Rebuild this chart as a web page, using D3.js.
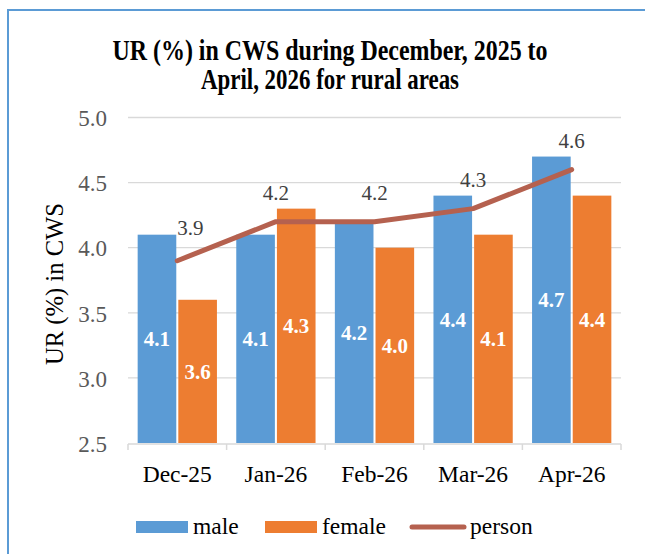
<!DOCTYPE html>
<html>
<head>
<meta charset="utf-8">
<script src="https://cdn.jsdelivr.net/npm/d3@7"></script>
<style>
  body { margin: 0; background: #fff; }
  svg text { font-family: "Liberation Serif", "DejaVu Serif", serif; }
</style>
</head>
<body>
<svg width="645" height="554"></svg>
<script>
var months = ["Dec-25", "Jan-26", "Feb-26", "Mar-26", "Apr-26"];
var male = [4.1, 4.1, 4.2, 4.4, 4.7];
var female = [3.6, 4.3, 4.0, 4.1, 4.4];
var person = [3.9, 4.2, 4.2, 4.3, 4.6];
var yTicks = [2.5, 3.0, 3.5, 4.0, 4.5, 5.0];
var titleLines = ["UR (%) in CWS during December, 2025 to", "April, 2026 for rural areas"];

var colMale = "#5b9bd5", colFemale = "#ed7d31", colPerson = "#b5614f";
var serif = "Liberation Serif";

var svg = d3.select("svg");

// outer frame
svg.append("rect")
	.attr("x", 8).attr("y", 10)
	.attr("width", 660).attr("height", 570)
	.attr("fill", "none")
	.attr("stroke", "#5b9bd5")
	.attr("stroke-width", 2);

// title (glyphs in the original are narrow and tall)
svg.append("g")
	.selectAll("text")
	.data(titleLines)
	.enter()
	.append("text")
	.attr("x", 330)
	.attr("y", (d,i)=>59.5 + i * 29)
	.attr("text-anchor", "middle")
	.attr("font-family", serif)
	.attr("font-weight", "bold")
	.attr("font-size", 29)
	.attr("textLength", (d,i)=>i === 0 ? 435 : 258)
	.attr("lengthAdjust", "spacingAndGlyphs")
	.attr("fill", "#000")
	.text(d=>d);

var m = {left:128, right:621, top:117.5, bottom:443};

var x = d3.scaleBand().domain(months).range([m.left, m.right]).paddingInner(0.196).paddingOuter(0.098);
var x1 = d3.scaleBand().domain(["male", "female"]).range([0, x.bandwidth()]).paddingInner(0.05);
var y = d3.scaleLinear().domain([2.5, 5.0]).range([m.bottom, m.top]);

// gridlines
svg.append("g")
	.selectAll("line")
	.data(yTicks.slice(1))
	.enter()
	.append("line")
	.attr("x1", m.left).attr("x2", m.right)
	.attr("y1", d=>y(d)).attr("y2", d=>y(d))
	.attr("stroke", "#d9d9d9")
	.attr("stroke-width", 1.3);

// y axis labels
var yAxis = d3.axisLeft(y).tickValues(yTicks).tickFormat(d3.format(".1f")).tickSize(0).tickPadding(21);
var yG = svg.append("g").attr("transform", "translate(" + m.left + ",0)").call(yAxis);
yG.select(".domain").remove();
yG.attr("font-family", serif).attr("font-size", 23);
yG.selectAll("text")
	.attr("dy", "0.36em")
	.attr("fill", "#595959");

// y axis title
svg.append("text")
	.attr("transform", "translate(63,284) rotate(-90)")
	.attr("text-anchor", "middle")
	.attr("font-family", serif)
	.attr("font-size", 26)
	.attr("textLength", 162)
	.attr("lengthAdjust", "spacingAndGlyphs")
	.attr("fill", "#000")
	.text("UR (%) in CWS");

// bars
var groups = svg.append("g")
	.selectAll("g")
	.data(months)
	.enter()
	.append("g")
	.attr("transform", d=>"translate(" + x(d) + ",0)");

var barData = function(i){
	return [{key:"male", v:male[i], c:colMale}, {key:"female", v:female[i], c:colFemale}];
};

groups.selectAll("rect")
	.data((d,i)=>barData(i))
	.enter()
	.append("rect")
	.attr("x", d=>x1(d.key))
	.attr("width", x1.bandwidth())
	.attr("y", d=>y(d.v))
	.attr("height", d=>m.bottom - y(d.v))
	.attr("fill", d=>d.c);

groups.selectAll("text")
	.data((d,i)=>barData(i))
	.enter()
	.append("text")
	.attr("x", d=>x1(d.key) + x1.bandwidth() / 2)
	.attr("y", d=>(y(d.v) + m.bottom) / 2 + 7.5)
	.attr("text-anchor", "middle")
	.attr("font-family", serif)
	.attr("font-weight", "bold")
	.attr("font-size", 21)
	.attr("fill", "#fff")
	.text(d=>d.v.toFixed(1));

// x axis
var xAxisLine = svg.append("g");
xAxisLine.append("line")
	.attr("x1", m.left).attr("x2", m.right)
	.attr("y1", m.bottom + 1).attr("y2", m.bottom + 1)
	.attr("stroke", "#d9d9d9").attr("stroke-width", 1.5);
var step = x.step();
xAxisLine.selectAll(".tk")
	.data(d3.range(months.length + 1))
	.enter()
	.append("line")
	.attr("class", "tk")
	.attr("x1", i=>m.left + i * step).attr("x2", i=>m.left + i * step)
	.attr("y1", m.bottom + 1).attr("y2", m.bottom + 7)
	.attr("stroke", "#d9d9d9").attr("stroke-width", 1.5);

svg.append("g")
	.selectAll("text")
	.data(months)
	.enter()
	.append("text")
	.attr("x", d=>x(d) + x.bandwidth() / 2)
	.attr("y", 482)
	.attr("text-anchor", "middle")
	.attr("font-family", serif)
	.attr("font-size", 23.5)
	.attr("fill", "#000")
	.text(d=>d);

// person line
var line = d3.line()
	.x((d,i)=>x(months[i]) + x.bandwidth() / 2)
	.y(d=>y(d));

svg.append("path")
	.datum(person)
	.attr("d", line)
	.attr("fill", "none")
	.attr("stroke", colPerson)
	.attr("stroke-width", 5)
	.attr("stroke-linecap", "round")
	.attr("stroke-linejoin", "round");

svg.append("g")
	.selectAll("text")
	.data(person)
	.enter()
	.append("text")
	.attr("x", (d,i)=>x(months[i]) + x.bandwidth() / 2 + (i === 0 ? 13 : 0))
	.attr("y", (d,i)=>y(d) - (i === 0 ? 26 : 22))
	.attr("text-anchor", "middle")
	.attr("font-family", serif)
	.attr("font-size", 21)
	.attr("fill", "#404040")
	.text(d=>d.toFixed(1));

// legend
var leg = svg.append("g").attr("font-family", serif).attr("font-size", 23.5);
leg.append("rect").attr("x", 136).attr("y", 521).attr("width", 52).attr("height", 12).attr("fill", colMale);
leg.append("text").attr("x", 193).attr("y", 534).text("male");
leg.append("rect").attr("x", 265).attr("y", 521).attr("width", 52).attr("height", 12).attr("fill", colFemale);
leg.append("text").attr("x", 322).attr("y", 534).text("female");
leg.append("line").attr("x1", 412).attr("x2", 464).attr("y1", 527).attr("y2", 527)
	.attr("stroke", colPerson).attr("stroke-width", 5).attr("stroke-linecap", "round");
leg.append("text").attr("x", 470).attr("y", 534).text("person");
</script>
</body>
</html>
